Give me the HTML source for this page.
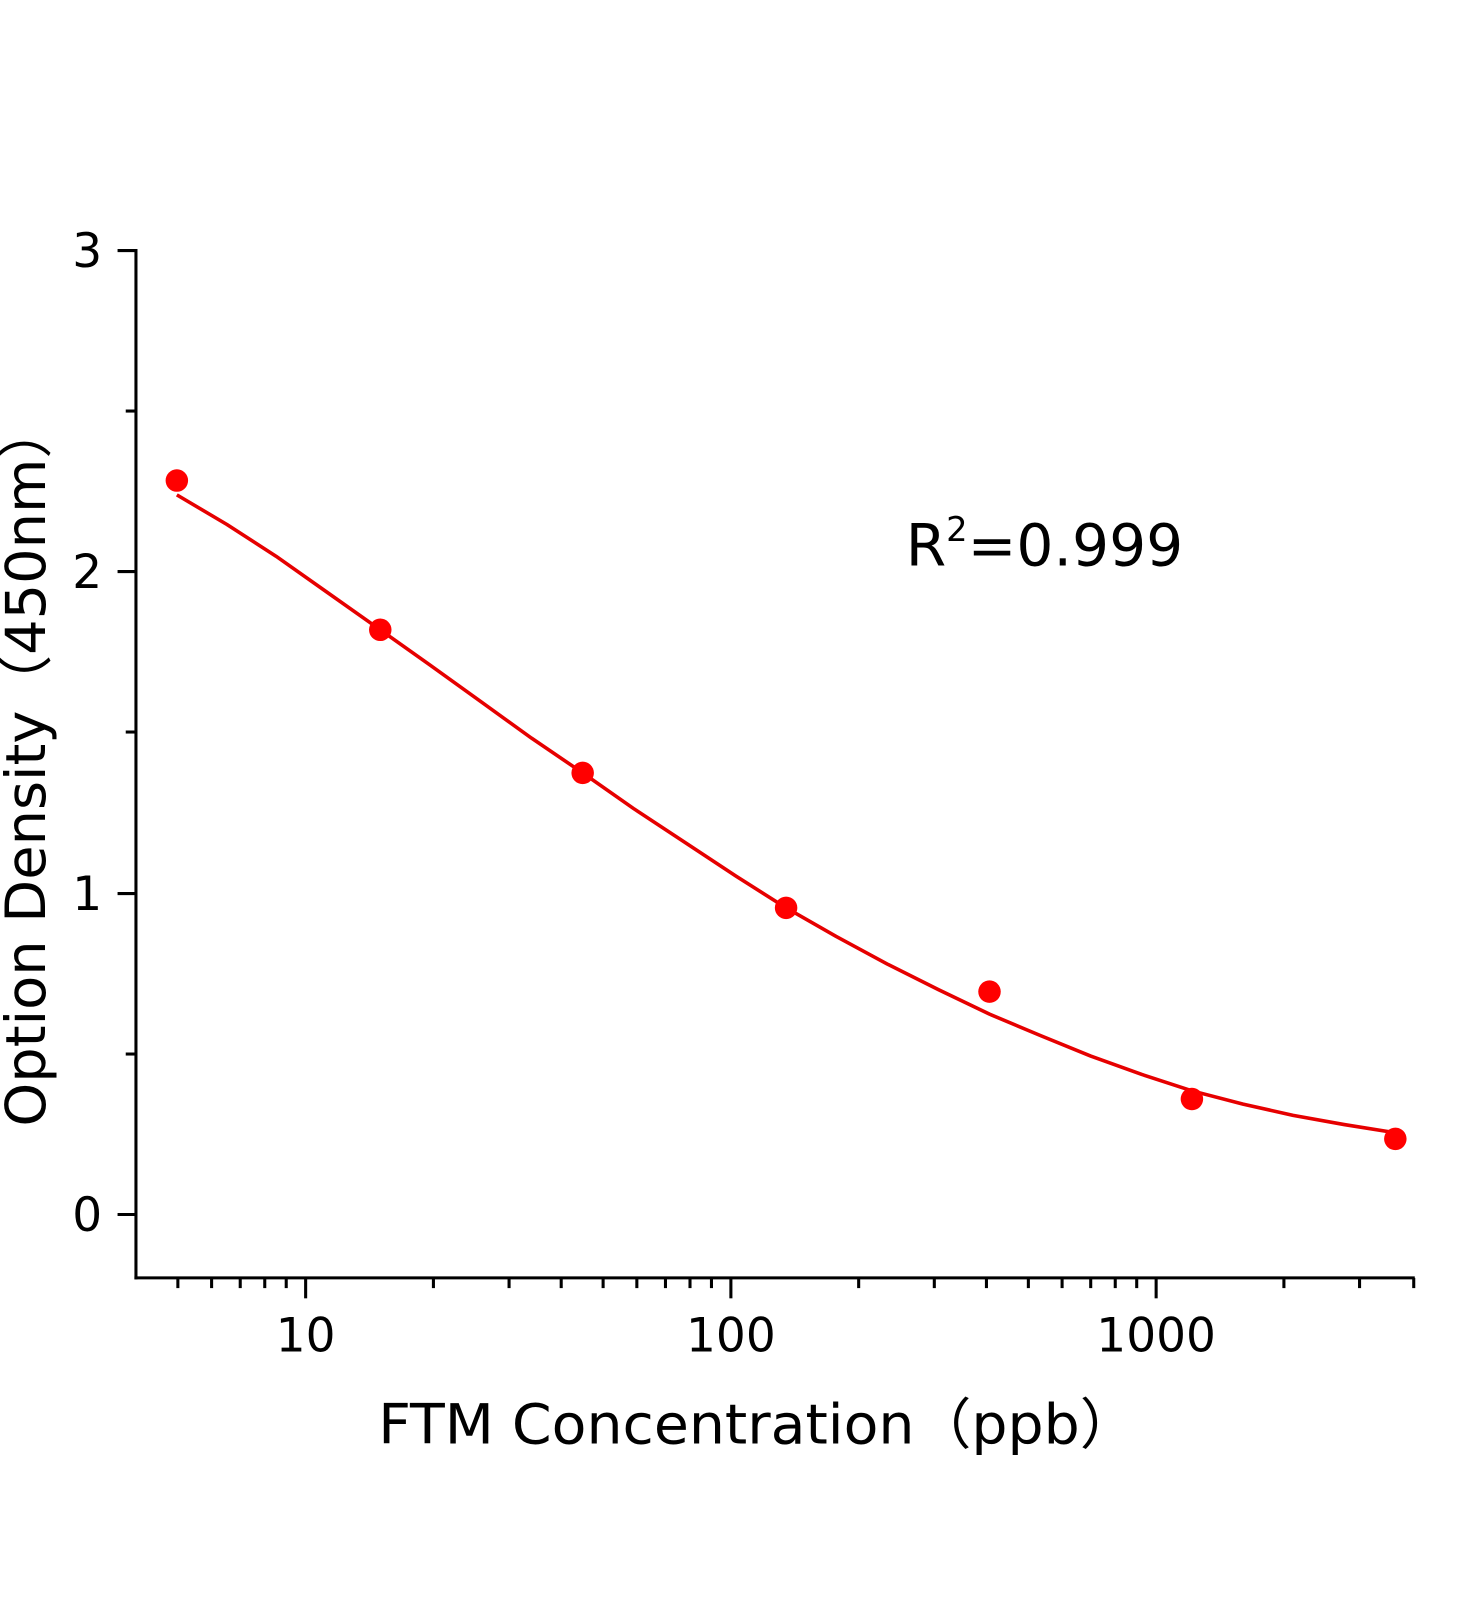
<!DOCTYPE html>
<html><head><meta charset="utf-8"><style>
html,body{margin:0;padding:0;background:#fff;}
svg{display:block;}
text{font-family:"DejaVu Sans","Liberation Sans",sans-serif;fill:#000;}
</style></head><body>
<svg width="1472" height="1600" viewBox="0 0 1440 1565" xmlns="http://www.w3.org/2000/svg">
<g stroke="#000" stroke-width="3" fill="none">
<line x1="133" y1="243.5" x2="133" y2="1251.5"/>
<line x1="131.5" y1="1250" x2="1384" y2="1250"/>
<line x1="1383" y1="1250" x2="1383" y2="1260"/>
<line x1="115" y1="245" x2="133" y2="245"/>
<line x1="115" y1="559" x2="133" y2="559"/>
<line x1="115" y1="874" x2="133" y2="874"/>
<line x1="115" y1="1188" x2="133" y2="1188"/>
<line x1="123" y1="402" x2="133" y2="402"/>
<line x1="123" y1="716" x2="133" y2="716"/>
<line x1="123" y1="1031" x2="133" y2="1031"/>
<line x1="299" y1="1250" x2="299" y2="1270"/>
<line x1="715" y1="1250" x2="715" y2="1270"/>
<line x1="1131" y1="1250" x2="1131" y2="1270"/>
<line x1="174" y1="1250" x2="174" y2="1260"/><line x1="207" y1="1250" x2="207" y2="1260"/><line x1="235" y1="1250" x2="235" y2="1260"/><line x1="259" y1="1250" x2="259" y2="1260"/><line x1="280" y1="1250" x2="280" y2="1260"/>
<line x1="424" y1="1250" x2="424" y2="1260"/><line x1="498" y1="1250" x2="498" y2="1260"/><line x1="549" y1="1250" x2="549" y2="1260"/><line x1="590" y1="1250" x2="590" y2="1260"/><line x1="623" y1="1250" x2="623" y2="1260"/><line x1="651" y1="1250" x2="651" y2="1260"/><line x1="675" y1="1250" x2="675" y2="1260"/><line x1="696" y1="1250" x2="696" y2="1260"/>
<line x1="840" y1="1250" x2="840" y2="1260"/><line x1="914" y1="1250" x2="914" y2="1260"/><line x1="965" y1="1250" x2="965" y2="1260"/><line x1="1006" y1="1250" x2="1006" y2="1260"/><line x1="1039" y1="1250" x2="1039" y2="1260"/><line x1="1067" y1="1250" x2="1067" y2="1260"/><line x1="1091" y1="1250" x2="1091" y2="1260"/><line x1="1112" y1="1250" x2="1112" y2="1260"/>
<line x1="1256" y1="1250" x2="1256" y2="1260"/><line x1="1330" y1="1250" x2="1330" y2="1260"/>
</g>
<g font-size="46" text-anchor="end">
<text x="100" y="261">3</text>
<text x="100" y="575">2</text>
<text x="100" y="890">1</text>
<text x="100" y="1204">0</text>
</g>
<g font-size="46" text-anchor="middle">
<text x="299" y="1322">10</text>
<text x="715" y="1322">100</text>
<text x="1131" y="1322">1000</text>
</g>
<text x="370" y="1412" font-size="54" textLength="742" lengthAdjust="spacingAndGlyphs">FTM Concentration（ppb）</text>
<text transform="translate(44,1102) rotate(-90)" font-size="54" textLength="708" lengthAdjust="spacingAndGlyphs">Option Density（450nm）</text>
<text x="886" y="553" font-size="57">R<tspan font-size="33" dy="-24">2</tspan><tspan dy="24">=0.999</tspan></text>
<polyline fill="none" stroke="#e60000" stroke-width="3.5" stroke-linejoin="round" points="173,484 222,513 270,544 321,580 372,616 420,650 470,686 520,722 570,756 620,791 670,824 720,857 769,888 818,916 868,943 918,968 968,992 1018,1013 1067,1033 1117,1051 1166,1067 1216,1080 1265,1091 1315,1100 1365,1108"/>
<g fill="#ff0000">
<circle cx="173" cy="470" r="11"/>
<circle cx="372" cy="616" r="11"/>
<circle cx="570" cy="756" r="11"/>
<circle cx="769" cy="888" r="11"/>
<circle cx="968" cy="970" r="11"/>
<circle cx="1166" cy="1075" r="11"/>
<circle cx="1365" cy="1114" r="11"/>
</g>
</svg>
</body></html>
